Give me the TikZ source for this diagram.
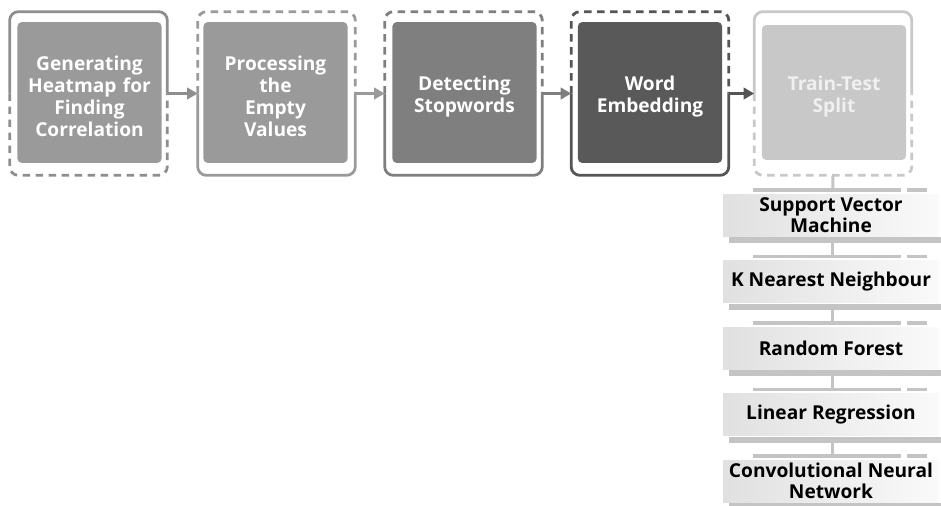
\documentclass[tikz,border=0pt]{standalone}
\usepackage{fontspec}
\setmainfont{Open Sans}
\usepackage{xcolor}
\usetikzlibrary{positioning, arrows.meta}

\definecolor{greyA}{HTML}{9A9A9A}
\definecolor{greyB}{HTML}{7F7F7F}
\definecolor{greyC}{HTML}{595959}
\definecolor{greyD}{HTML}{C8C8C8}
\definecolor{lineA}{HTML}{8E8E8E}
\definecolor{lineC}{HTML}{555555}
\definecolor{modelbar}{HTML}{C4C4C4}

\begin{document}
\begin{tikzpicture}[
    x=0.02cm, y=-0.02cm,
    stage/.style={rectangle, rounded corners=2.5pt, minimum width=2.7cm, minimum height=2.82cm,
        text width=2.65cm, align=center, text=white, font=\bfseries\fontsize{10.9}{12.6}\selectfont,
        execute at begin node={\rule{0pt}{12.8pt}}},
    frame/.style={rectangle, minimum width=3.14cm, minimum height=3.26cm},
    solidhalf/.style={line width=1.6pt, rounded corners=5pt},
    dashhalf/.style={line width=1.6pt, rounded corners=5pt, dash pattern=on 4.2pt off 3.2pt},
    flow/.style={line width=1.6pt, -{Triangle[length=6pt, width=6.5pt]}},
    model/.style={rectangle, minimum width=4.32cm, minimum height=0.84cm, inner sep=1pt,
        left color=black!12, right color=black!2, align=center,
        font=\bfseries\fontsize{10.9}{12}\selectfont},
    link/.style={draw=modelbar, line width=1.7pt}
]
    \useasboundingbox (0,0) rectangle (941,505);

    % Stage frames
    \node[frame] (f1) at (88.5,93.5) {};
    \node[frame] (f2) at (276.5,93.5) {};
    \node[frame] (f3) at (463.5,93.5) {};
    \node[frame] (f4) at (650,93.5) {};
    \node[frame] (f5) at (833,93.5) {};

    \draw[solidhalf, lineA] (f1.west) |- (f1.north) -| (f1.east);
    \draw[dashhalf, lineA] (f1.west) |- (f1.south) -| (f1.east);
    \draw[dashhalf, greyA] (f2.west) |- (f2.north) -| (f2.east);
    \draw[solidhalf, greyA] (f2.west) |- (f2.south) -| (f2.east);
    \draw[dashhalf, greyB] (f3.west) |- (f3.north) -| (f3.east);
    \draw[solidhalf, greyB] (f3.west) |- (f3.south) -| (f3.east);
    \draw[dashhalf, lineC] (f4.west) |- (f4.north) -| (f4.east);
    \draw[solidhalf, lineC] (f4.west) |- (f4.south) -| (f4.east);
    \draw[solidhalf, greyD] (f5.west) |- (f5.north) -| (f5.east);
    \draw[dashhalf, greyD] (f5.west) |- (f5.south) -| (f5.east);

    % Stage boxes
    \node[stage, fill=greyA] (b1) at (89.5,92.5) {Generating\\Heatmap for\\Finding\\Correlation};
    \node[stage, fill=greyA] (b2) at (275.5,92.5) {Processing\\the\\Empty\\Values};
    \node[stage, fill=greyB] (b3) at (464.5,92.5) {Detecting\\Stopwords};
    \node[stage, fill=greyC] (b4) at (650,92.5) {Word\\Embedding};
    \node[stage, fill=greyD, minimum width=2.6cm, minimum height=2.7cm, text=white!94!black] (b5) at (834,92.5) {Train-Test\\Split};

    % Flow between stages
    \draw[flow, lineA] (f1.east) -- (f2.west);
    \draw[flow, greyA] (f2.east) -- (f3.west);
    \draw[flow, greyB] (f3.east) -- (f4.west);
    \draw[flow, lineC] (f4.east) -- (f5.west);

    % Models
    \node[model] (m1) at (831,215) {Support Vector\\Machine};
    \node[model] (m2) at (831,281.5) {K Nearest Neighbour};
    \node[model] (m3) at (831,348) {Random Forest};
    \node[model] (m4) at (831,414.5) {Linear Regression};
    \node[model] (m5) at (831,481) {Convolutional Neural\\Network};

    \foreach \m in {m1,m2,m3,m4,m5} {
        \fill[modelbar] ([xshift=3.4pt,yshift=-0.6pt]\m.south west) rectangle ([xshift=1.1pt,yshift=-4pt]\m.south east);
        \fill[modelbar] ([xshift=17pt,yshift=1pt]\m.north west) rectangle ([xshift=101.5pt,yshift=3.2pt]\m.north west);
        \fill[modelbar] ([xshift=105pt,yshift=1pt]\m.north west) rectangle ([xshift=116.5pt,yshift=3.2pt]\m.north west);
    }

    % Links down the list
    \draw[link] (f5.south) -- ([xshift=1pt,yshift=1pt]m1.north);
    \draw[link] ([xshift=1pt,yshift=-4pt]m1.south) -- ([xshift=1pt,yshift=1pt]m2.north);
    \draw[link] ([xshift=1pt,yshift=-4pt]m2.south) -- ([xshift=1pt,yshift=1pt]m3.north);
    \draw[link] ([xshift=1pt,yshift=-4pt]m3.south) -- ([xshift=1pt,yshift=1pt]m4.north);
    \draw[link] ([xshift=1pt,yshift=-4pt]m4.south) -- ([xshift=1pt,yshift=1pt]m5.north);
\end{tikzpicture}
\end{document}
